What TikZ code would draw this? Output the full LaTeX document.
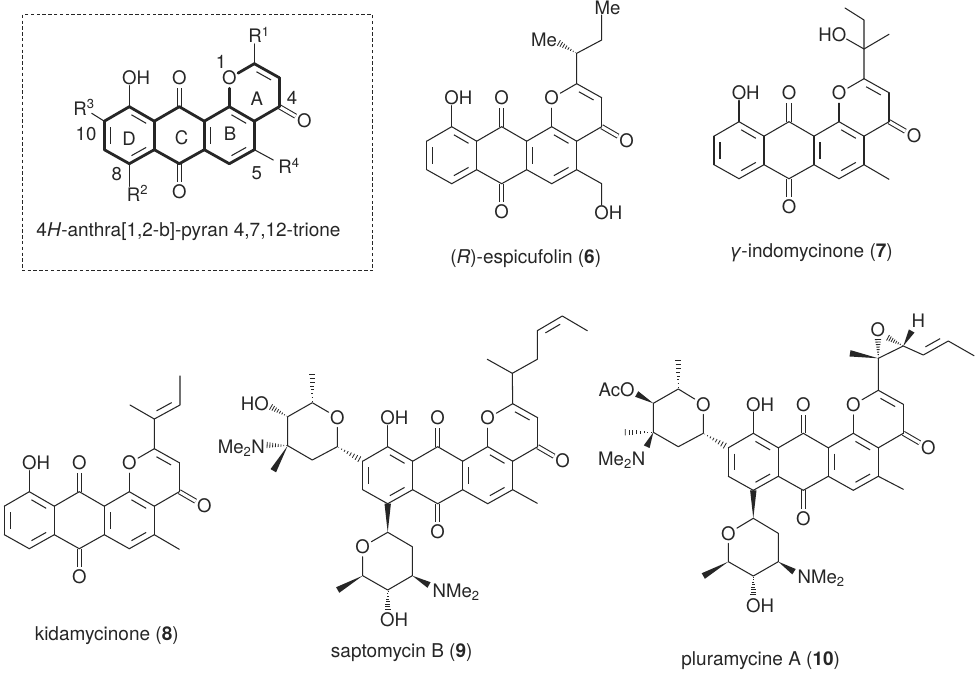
\documentclass[tikz,border=0pt]{standalone}
\usepackage{fontspec}
\setmainfont{TeX Gyre Heros}
\usetikzlibrary{calc}
\definecolor{ink}{HTML}{262626}
\tikzset{
  chemfont/.style={font=\fontsize{18.6}{20}\selectfont, text=ink},
  atom/.style={chemfont, circle, inner sep=0pt, minimum size=19pt, text height=13.4pt, text depth=0pt},
  lab/.style={chemfont, inner sep=1pt, text height=13.4pt, text depth=0pt},
  note/.style={font=\fontsize{19}{21}\selectfont, text=ink, inner sep=0pt, text height=13.4pt, text depth=0pt},
  bond/.style={draw=ink, line width=1.05pt, line cap=round, line join=round},
  heavy/.style={draw=ink, line width=2.8pt, line cap=round, line join=round},
  inner/.style={draw=ink, line width=1.05pt, shorten <=2.5pt, shorten >=2.5pt},
  dbond/.style={draw=ink, line width=1.05pt, double=white, double distance=3.1pt},
  hatch/.style={draw=ink, line width=0.8pt},
}
\newcommand\wedgebond[3][3.2pt]{\fill[ink] (#2) -- ($(#3)!#1!90:(#2)$) -- ($(#3)!#1!-90:(#2)$) -- cycle;}
\newcommand\hashbond[2]{\foreach \hh in {0.06,0.19,0.32,0.45,0.58,0.71,0.84,0.97}{
  \coordinate (hp) at ($(#1)!\hh!(#2)$);
  \draw[hatch] ($(hp)!{\hh*3.2pt}!90:(#2)$) -- ($(hp)!{\hh*3.2pt}!-90:(#2)$);}}
\newcommand\dblin[3]{\draw[inner] ($(#1)!0.24!(#3)$) -- ($(#2)!0.24!(#3)$);}
% tetracyclic core: prefix, x, y of the OH-bearing carbon, ring bond style
\newcommand\corering[4]{
\begin{scope}[shift={(#2,#3)}]
  \coordinate (#1a1) at (0,0);
  \coordinate (#1a2) at (-25,14.5);
  \coordinate (#1a3) at (-25,43);
  \coordinate (#1a4) at (0,57);
  \coordinate (#1a5) at (25,43);
  \coordinate (#1a6) at (25,14.5);
  \coordinate (#1c12) at (50,0);
  \coordinate (#1c7) at (50,57);
  \coordinate (#1b1) at (75,14.5);
  \coordinate (#1b2) at (75,43);
  \coordinate (#1b3) at (100,0);
  \coordinate (#1b4) at (125,14.5);
  \coordinate (#1b5) at (125,43);
  \coordinate (#1b6) at (100,57);
  \coordinate (#1C2) at (125,-43);
  \coordinate (#1C3) at (150,-29);
  \coordinate (#1C4) at (150,0);
  \coordinate (#1cD) at (0,28.5);
  \coordinate (#1cB) at (100,28.5);
  \coordinate (#1cA) at (125,-14.5);
  \node[atom] (#1O1) at (100,-28.5) {O};
  \node[atom] (#1O12) at (50,-28.5) {O};
  \node[atom] (#1O7) at (50,85.5) {O};
  \node[atom] (#1O4) at (175,14.5) {O};
  \node[lab] (#1OH) at (6.7,-29) {OH};
  \draw[dbond] (#1c12) -- (#1O12);
  \draw[dbond] (#1c7) -- (#1O7);
  \draw[dbond] (#1C4) -- (#1O4);
  \draw[bond] (#1a1) -- (#1a1 |- #1OH.south);
  \foreach \u/\v in {a1/a2,a2/a3,a3/a4,a4/a5,a5/a6,a6/a1,a6/c12,c12/b1,b1/b2,b2/c7,c7/a5,b1/b3,b3/b4,b4/b5,b5/b6,b6/b2,b3/O1,O1/C2,C2/C3,C3/C4,C4/b4}
    {\draw[#4] (#1\u) -- (#1\v);}
  \dblin{#1a1}{#1a6}{#1cD}
  \dblin{#1a2}{#1a3}{#1cD}
  \dblin{#1a4}{#1a5}{#1cD}
  \dblin{#1b1}{#1b2}{#1cB}
  \dblin{#1b3}{#1b4}{#1cB}
  \dblin{#1b5}{#1b6}{#1cB}
  \dblin{#1C2}{#1C3}{#1cA}
\end{scope}}
\begin{document}
\begin{tikzpicture}[x=1pt,y=-1pt]
\useasboundingbox (0,0) rectangle (979,672);
\fill[white] (0,0) rectangle (979,672);
% --- generic scaffold ---
\draw[draw=ink, line width=0.8pt, dash pattern=on 3.4pt off 2.4pt] (22.7,14.7) rectangle (372.7,270.7);
\corering{g}{129.3}{106.7}{heavy}
\node[lab] (gR1) at (259,36) {R\textsuperscript{1}};
\node[lab] (gR2) at (137.5,194.3) {R\textsuperscript{2}};
\node[lab] (gR3) at (84,108.3) {R\textsuperscript{3}};
\node[lab] (gR4) at (289,166.7) {R\textsuperscript{4}};
\coordinate (gR3e) at (91.7,113.3);
\coordinate (gR4e) at (273.3,160);
\draw[bond] (gC2) -- (gC2 |- gR1.south);
\draw[bond] (ga4) -- (ga4 |- gR2.north);
\draw[bond] (ga2) -- (gR3e);
\draw[bond] (gb5) -- (gR4e);
\node[lab] (gn1) at (221,62) {1};
\node[lab] (gn4) at (292,98) {4};
\node[lab] (gn5) at (256.7,173) {5};
\node[lab] (gn8) at (116.7,174) {8};
\node[lab] (gn10) at (86,134) {10};
\node[lab] (grA) at (256.7,98.3) {A};
\node[lab] (grB) at (230,134) {B};
\node[lab] (grC) at (181.7,138) {C};
\node[lab] (grD) at (129,139) {D};
\node[note] (gcap) at (188.5,230) {4\textit{H}-anthra[1,2-b]-pyran 4,7,12-trione};
% --- 6 ---
\corering{e}{451.7}{126.7}{bond}
\coordinate (e1) at (576.7,53.3);
\coordinate (e2) at (601.7,40);
\coordinate (e3) at (601.7,15);
\coordinate (e4) at (601.7,183.7);
\coordinate (e5) at (558.3,42.7);
\node[lab] (eMe1) at (607.5,8) {Me};
\node[lab] (eMe2) at (544,40) {Me};
\node[lab] (eOH) at (608.3,212.7) {OH};
\draw[bond] (eC2) -- (e1) -- (e2) -- (e3);
\hashbond{e1}{e5}
\draw[bond] (eb5) -- (e4) -- (e4 |- eOH.north);
\node[note] (ecap) at (525.7,256.7) {(\textit{R})-espicufolin (\textbf{6})};
% --- 7 ---
\corering{i}{739}{121.7}{bond}
\coordinate (i1) at (864,49);
\coordinate (i2) at (864,20);
\coordinate (i3) at (845,8);
\coordinate (i4) at (889,34.3);
\coordinate (i5) at (889,179.3);
\coordinate (i6) at (846.5,39);
\node[lab] (iHO) at (832.3,35) {HO};
\draw[bond] (iC2) -- (i1) -- (i2) -- (i3);
\draw[bond] (i1) -- (i4);
\draw[bond] (i1) -- (i6);
\draw[bond] (ib5) -- (i5);
\node[note] (icap) at (811,250.7) {\textit{γ}-indomycinone (\textbf{7})};
% --- 8 ---
\corering{k}{29.3}{491.7}{bond}
\coordinate (k1) at (154.3,419);
\coordinate (k2) at (130,405);
\coordinate (k3) at (180,405);
\coordinate (k4) at (180,376);
\coordinate (k5) at (179.3,549.3);
\coordinate (k6) at (154.5,390);
\draw[bond] (kC2) -- (k1) -- (k2);
\draw[bond] (k1) -- (k3) -- (k4);
\dblin{k1}{k3}{k6}
\draw[bond] (kb5) -- (k5);
\node[note] (kcap) at (106.7,634) {kidamycinone (\textbf{8})};
% --- 9 ---
\corering{s}{387.7}{446.7}{bond}
\coordinate (s1) at (512.3,373.3);
\coordinate (s2) at (487.3,359.3);
\coordinate (s3) at (537.3,359.3);
\coordinate (s4) at (537.3,330.7);
\coordinate (s5) at (562.3,316);
\coordinate (s6) at (587.3,330.7);
\coordinate (s7) at (562.3,345);
\coordinate (s8) at (537.3,503.3);
\draw[bond] (sC2) -- (s1) -- (s2);
\draw[bond] (s1) -- (s3) -- (s4) -- (s5) -- (s6);
\dblin{s4}{s5}{s7}
\draw[bond] (sb5) -- (s8);
% left sugar of 9
\coordinate (sl1) at (337.3,446.7);
\node[atom] (slO) at (337.3,417.3) {O};
\coordinate (sl5) at (312.3,402.7);
\coordinate (sl4) at (287.7,416.7);
\coordinate (sl3) at (287.7,445.7);
\coordinate (sl2) at (312.3,460);
\coordinate (slm) at (312.3,374);
\coordinate (slw) at (273.3,470.7);
\coordinate (slh) at (270.5,406.7);
\coordinate (sln) at (266.5,445);
\coordinate (sla) at (360,459.5);
\node[lab,anchor=east] (sHO) at (270,404) {HO};
\node[lab,anchor=east] (sNMe) at (266,447) {Me\textsubscript{2}N};
\draw[bond] (sl1) -- (slO) -- (sl5) -- (sl4) -- (sl3) -- (sl2) -- (sl1);
\hashbond{sl5}{slm}
\hashbond{sl4}{slh}
\hashbond{sl3}{sln}
\wedgebond{sl3}{slw}
\hashbond{sl1}{sla}
% bottom sugar of 9
\coordinate (sb1) at (387.7,532.3);
\coordinate (sb2) at (412.3,546.7);
\coordinate (sb3) at (412.3,575.7);
\coordinate (sb4) at (387.7,590);
\coordinate (sb5x) at (362.7,575.7);
\node[atom] (sbO) at (362.7,546.7) {O};
\coordinate (sbm) at (337.7,590);
\coordinate (sbn) at (429,585);
\coordinate (sbh) at (387.7,610);
\node[lab,anchor=west] (sbN) at (431.5,591) {NMe\textsubscript{2}};
\node[lab] (sbOH) at (394,620) {OH};
\draw[bond] (sb1) -- (sb2) -- (sb3) -- (sb4) -- (sb5x) -- (sbO) -- (sb1);
\wedgebond{sb1}{sa4}
\wedgebond{sb5x}{sbm}
\wedgebond{sb3}{sbn}
\hashbond{sb4}{sbh}
\node[note] (scap) at (401.7,650.7) {saptomycin B (\textbf{9})};
% --- 10 ---
\corering{p}{753.3}{433.3}{bond}
\coordinate (p1) at (878.3,358.3);
\coordinate (p2) at (903.3,346);
\node[atom] (pO) at (877.8,330) {O};
\coordinate (p3) at (850,353.3);
\coordinate (p4) at (911.7,331);
\coordinate (p5) at (923.3,355);
\coordinate (p6) at (948.3,341);
\coordinate (p7) at (974,355.7);
\coordinate (p8) at (923.3,326);
\coordinate (p9) at (903.3,489.3);
\coordinate (p1o) at (878,339);
\coordinate (p2o) at (887.5,337.5);
\node[lab] (pH) at (918.3,320.7) {H};
\draw[bond] (pC2) -- (p1) -- (p2) -- (p5) -- (p6) -- (p7);
\dblin{p5}{p6}{p8}
\hashbond{p1}{p1o}
\hashbond{p2}{p2o}
\wedgebond{p1}{p3}
\wedgebond{p2}{p4}
\draw[bond] (pb5) -- (p9);
% left sugar of 10
\coordinate (pl1) at (703.3,433.3);
\node[atom] (plO) at (703.3,404.3) {O};
\coordinate (pl5) at (678.3,389);
\coordinate (pl4) at (653.3,403.3);
\coordinate (pl3) at (653.3,432.3);
\coordinate (pl2) at (678.3,446.7);
\coordinate (plm) at (678.3,360);
\coordinate (plac) at (636.7,394);
\coordinate (plh) at (624.3,432.3);
\coordinate (pln) at (646.7,446.7);
\coordinate (pla) at (725.5,446);
\node[lab] (pAcO) at (616.7,389.3) {AcO};
\node[lab] (pNMe) at (621.7,458.3) {Me\textsubscript{2}N};
\draw[bond] (pl1) -- (plO) -- (pl5) -- (pl4) -- (pl3) -- (pl2) -- (pl1);
\hashbond{pl5}{plm}
\wedgebond{pl4}{plac}
\hashbond{pl3}{plh}
\wedgebond{pl3}{pln}
\hashbond{pl1}{pla}
% bottom sugar of 10
\coordinate (pb1x) at (753.3,518.3);
\coordinate (pb2x) at (778.3,533.3);
\coordinate (pb3x) at (778.3,561.7);
\coordinate (pb4x) at (753.3,576);
\coordinate (pb5x) at (728.3,561.7);
\node[atom] (pbO) at (728.3,533.3) {O};
\coordinate (pbm) at (703.3,576);
\coordinate (pbn) at (794,571.7);
\coordinate (pbh) at (753.3,595);
\node[lab,anchor=west] (pbN) at (796.5,576.7) {NMe\textsubscript{2}};
\node[lab] (pbOH) at (760,606) {OH};
\draw[bond] (pb1x) -- (pb2x) -- (pb3x) -- (pb4x) -- (pb5x) -- (pbO) -- (pb1x);
\wedgebond{pb1x}{pa4}
\wedgebond{pb5x}{pbm}
\wedgebond{pb3x}{pbn}
\hashbond{pb4x}{pbh}
\node[note] (pcap) at (760.7,659) {pluramycine A (\textbf{10})};
\end{tikzpicture}
\end{document}
